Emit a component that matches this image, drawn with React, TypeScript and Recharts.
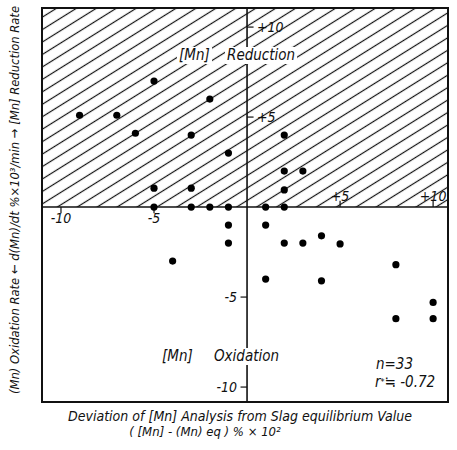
import React from 'react';
import { ScatterChart, Scatter, XAxis, YAxis, ReferenceLine, ReferenceArea, ReferenceDot } from 'recharts';

// deviation [Mn]-(Mn)eq, %x10^2
const devValues = [
  -9, -7, -5, -6, -2, -3, -1, -5, -3, 2, 2, 3, 2,
  -5, -3, -2, -1, 1, 2,
  -1, -1, -4, 1, 2, 3, 4, 5, 8, 1, 4, 10, 8, 10,
];
// rate d(Mn)/dt
const rateValues = [
  5.1, 5.1, 7, 4.1, 6, 4, 3, 1.05, 1.05, 4, 2, 2, 0.95,
  0, 0, 0, 0, 0, 0,
  -1, -2, -3, -1, -2, -2, -1.6, -2.05, -3.2, -4, -4.1, -5.3, -6.2, -6.2,
];

const xTicks = [-10, -5, 5, 10];
const xTickLabels = ['-10', '-5', '+5', '+10'];
const yTicks = [10, 5, -5, -10];
const yTickLabels = ['+10', '+5', '-5', '-10'];

const X_MIN = -11.02;
const X_MAX = 10.8;
const Y_MIN = -10.83;
const Y_MAX = 11.06;

const data = devValues.map((x, i) => ({ x, y: rateValues[i] }));

const FONT = "'DejaVu Sans Condensed', 'Liberation Sans Narrow', 'DejaVu Sans', sans-serif";
const labelStyle = { fontSize: 14, fontStyle: 'italic', fontFamily: FONT, fill: '#111' };

const Dot = (props: any) => <circle cx={props.cx} cy={props.cy} r={3.6} fill="#000" />;

const note: React.CSSProperties = {
  position: 'absolute',
  fontFamily: FONT,
  fontStyle: 'italic',
  fontSize: 15,
  color: '#111',
  background: '#fff',
  lineHeight: '17px',
  padding: '0 2px',
  whiteSpace: 'nowrap',
};

export default function App() {
  return (
    <div style={{ position: 'absolute', left: 0, top: 0, width: 457, height: 450, background: '#fff' }}>
      <svg width={0} height={0} style={{ position: 'absolute' }}>
        <defs>
          <pattern id="hatch" patternUnits="userSpaceOnUse" width={12} height={16} patternTransform="rotate(-32) scale(1, 0.66)">
            <line x1={0} y1={8} x2={12} y2={8} stroke="#111" strokeWidth={1.8} />
          </pattern>
        </defs>
      </svg>
      <ScatterChart width={457} height={450} margin={{ top: 8, left: 42, right: 9, bottom: 48 }}>
        <XAxis type="number" dataKey="x" domain={[X_MIN, X_MAX]} hide allowDataOverflow />
        <YAxis type="number" dataKey="y" domain={[Y_MIN, Y_MAX]} hide allowDataOverflow />
        <ReferenceArea x1={X_MIN} x2={X_MAX} y1={0} y2={Y_MAX} fill="url(#hatch)" fillOpacity={1} stroke="none" />
        <ReferenceArea x1={X_MIN} x2={X_MAX} y1={Y_MIN} y2={Y_MAX} fill="none" stroke="#111" strokeWidth={2} />
        <ReferenceLine x={0} stroke="#111" strokeWidth={1.6} />
        <ReferenceLine y={0} stroke="#111" strokeWidth={1.6} />
        {yTicks.map((t) => (
          <ReferenceLine
            key={'yt' + t}
            segment={t > 0 ? [{ x: 0, y: t }, { x: 0.35, y: t }] : [{ x: -0.35, y: t }, { x: 0, y: t }]}
            stroke="#111"
            strokeWidth={1.2}
          />
        ))}
        {xTicks.map((t) => (
          <ReferenceLine
            key={'xt' + t}
            segment={t > 0 ? [{ x: t, y: 0 }, { x: t, y: 0.35 }] : [{ x: t, y: -0.35 }, { x: t, y: 0 }]}
            stroke="#111"
            strokeWidth={1.2}
          />
        ))}
        {yTicks.map((t, i) => (
          <ReferenceDot
            key={'yl' + t}
            x={0}
            y={t}
            r={0}
            stroke="none"
            label={{ value: yTickLabels[i], position: t > 0 ? 'right' : 'left', offset: 10, ...labelStyle }}
          />
        ))}
        {xTicks.map((t, i) => (
          <ReferenceDot
            key={'xl' + t}
            x={t}
            y={0}
            r={0}
            stroke="none"
            label={{ value: xTickLabels[i], position: t > 0 ? 'top' : 'bottom', offset: 6, ...labelStyle }}
          />
        ))}
        <Scatter data={data} shape={Dot} isAnimationActive={false} />
      </ScatterChart>

      <div style={{ ...note, left: 177, top: 47 }}>[Mn]</div>
      <div style={{ ...note, left: 225, top: 47 }}>Reduction</div>
      <div style={{ ...note, left: 160, top: 348 }}>[Mn]</div>
      <div style={{ ...note, left: 212, top: 348 }}>Oxidation</div>
      <div style={{ ...note, left: 374, top: 356, background: 'transparent' }}>n=33</div>
      <div style={{ ...note, left: 373, top: 374, background: 'transparent' }}>
        r<span style={{ fontSize: 9, verticalAlign: 'top' }}>*</span>≒ -0.72
      </div>

      <svg width={457} height={450} style={{ position: 'absolute', left: 0, top: 0, pointerEvents: 'none' }}>
        <text
          transform="translate(19,200) rotate(-90)"
          textAnchor="middle"
          fontFamily={FONT}
          fontStyle="italic"
          fontSize={13}
          fill="#111"
          textLength={388}
          lengthAdjust="spacingAndGlyphs"
        >
          (Mn) Oxidation Rate ← d(Mn)/dt  %×10³/min → [Mn] Reduction Rate
        </text>
        <text
          x={240}
          y={421}
          textAnchor="middle"
          fontFamily={FONT}
          fontStyle="italic"
          fontSize={14}
          fill="#111"
          textLength={344}
          lengthAdjust="spacingAndGlyphs"
        >
          Deviation of [Mn] Analysis from Slag equilibrium Value
        </text>
        <text x={205} y={436} textAnchor="middle" fontFamily={FONT} fontStyle="italic" fontSize={13} fill="#111">
          ( [Mn] - (Mn) eq )  % × 10²
        </text>
      </svg>
    </div>
  );
}
